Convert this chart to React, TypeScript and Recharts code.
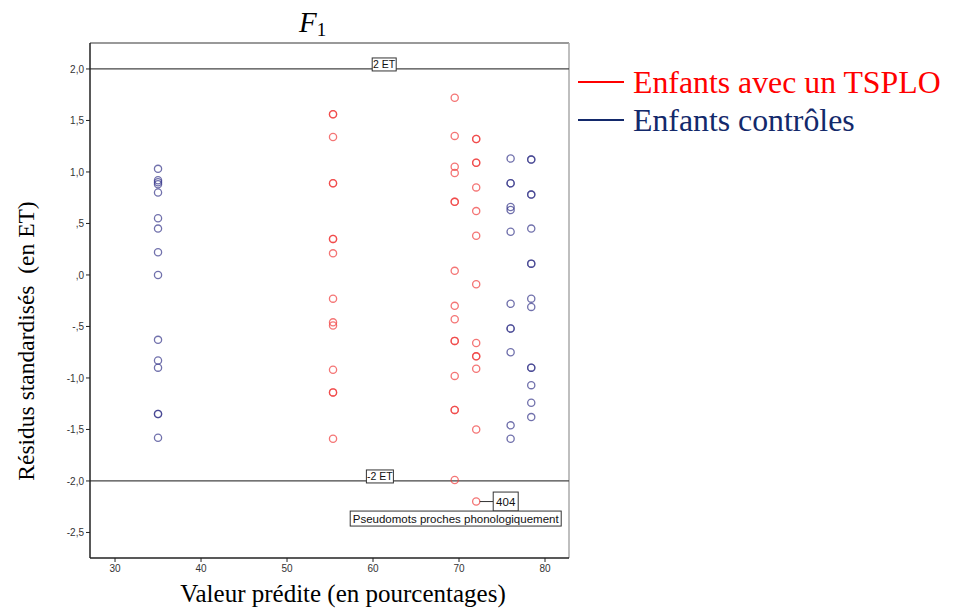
import React from "react";
import {
  ScatterChart,
  Scatter,
  XAxis,
  YAxis,
  ReferenceLine,
  ReferenceDot,
} from "recharts";

// Predicted values (x) per column
const controlLowX = 35.0;
const tspMidX = 55.35;
const tspHighX = 69.5;
const tspTopX = 72.0;
const controlHighX = 76.0;
const controlTopX = 78.4;

// Standardised residuals (y) per column
const controlLowRes = [1.03, 0.92, 0.9, 0.88, 0.8, 0.55, 0.45, 0.22, 0.0, -0.63, -0.83, -0.9, -1.35, -1.35, -1.58];
const tspMidRes = [1.56, 1.56, 1.34, 0.89, 0.89, 0.35, 0.35, 0.21, -0.23, -0.46, -0.49, -0.92, -1.14, -1.14, -1.59];
const tspHighRes = [1.72, 1.35, 1.05, 0.99, 0.71, 0.71, 0.04, -0.3, -0.43, -0.64, -0.64, -0.98, -1.31, -1.31, -1.99];
const tspTopRes = [1.32, 1.32, 1.09, 1.09, 0.85, 0.62, 0.38, -0.09, -0.66, -0.79, -0.79, -0.91, -1.5, -2.2];
const controlHighRes = [1.13, 0.89, 0.89, 0.66, 0.63, 0.42, -0.28, -0.52, -0.52, -0.75, -1.46, -1.59];
const controlTopRes = [1.12, 1.12, 0.78, 0.78, 0.45, 0.11, 0.11, -0.23, -0.31, -0.9, -0.9, -1.07, -1.24, -1.38];

const xTicks = [30, 40, 50, 60, 70, 80];
const yTicks = [2, 1.5, 1, 0.5, 0, -0.5, -1, -1.5, -2, -2.5];
const yTickLabels = ["2,0", "1,5", "1,0", ",5", ",0", "-,5", "-1,0", "-1,5", "-2,0", "-2,5"];

const outlierX = 72.0;
const outlierY = -2.2;
const outlierId = "404";
const outlierNote = "Pseudomots proches phonologiquement";

const legendTsp = "Enfants avec un TSPLO";
const legendCtrl = "Enfants contrôles";

const col = (x: number, ys: number[]) => ys.map((y) => ({ x, y }));
const tspData = [...col(tspMidX, tspMidRes), ...col(tspHighX, tspHighRes), ...col(tspTopX, tspTopRes)];
const ctrlData = [...col(controlLowX, controlLowRes), ...col(controlHighX, controlHighRes), ...col(controlTopX, controlTopRes)];

const X_DOMAIN: [number, number] = [27.09, 82.79];
const Y_DOMAIN: [number, number] = [-2.748, 2.252];

const RED = "#f03a3a";
const BLUE = "#3a3a8c";

const circleShape = (color: string, op: number) => (p: any) => (
  <circle cx={p.cx} cy={p.cy} r={3.6} fill="none" stroke={color} strokeOpacity={op} strokeWidth={1.3} />
);

const boxLabel = (text: string, w: number) => (p: any) => (
  <g>
    <rect x={p.cx - w / 2} y={p.cy - 11} width={w} height={13} fill="#fff" stroke="#333" strokeWidth={1} />
    <text x={p.cx} y={p.cy - 1} textAnchor="middle" fontFamily="Liberation Sans, Arial" fontSize={10.5} fill="#111">
      {text}
    </text>
  </g>
);

const outlierShape = (p: any) => (
  <g>
    <line x1={p.cx + 3.6} y1={p.cy} x2={p.cx + 17} y2={p.cy} stroke="#333" strokeWidth={1} />
    <rect x={p.cx + 17} y={p.cy - 9.5} width={25} height={19} fill="#fff" stroke="#333" strokeWidth={1} />
    <text x={p.cx + 29.5} y={p.cy + 4} textAnchor="middle" fontFamily="Liberation Sans, Arial" fontSize={11.5} fill="#111">
      {outlierId}
    </text>
    <rect x={p.cx - 126} y={p.cy + 9.5} width={211} height={15} fill="#fff" stroke="#333" strokeWidth={1} />
    <text x={p.cx - 20.5} y={p.cy + 21} textAnchor="middle" fontFamily="Liberation Sans, Arial" fontSize={11.5} fill="#111">
      {outlierNote}
    </text>
  </g>
);

export default function App() {
  const tickStyle = { fontFamily: "Liberation Sans, Arial", fontSize: 10, fill: "#333" };
  return (
    <div style={{ position: "absolute", left: 0, top: 0, width: 959, height: 612, background: "#fff" }}>
      <ScatterChart width={959} height={612} margin={{ top: 43, left: 30, right: 390, bottom: 24 }}>
        <XAxis
          type="number"
          dataKey="x"
          domain={X_DOMAIN}
          ticks={xTicks}
          height={30}
          tickSize={4}
          tick={tickStyle}
          tickMargin={3}
          axisLine={{ stroke: "#222", strokeWidth: 1.5 }}
          tickLine={{ stroke: "#222" }}
          allowDataOverflow
        />
        <YAxis
          type="number"
          dataKey="y"
          domain={Y_DOMAIN}
          ticks={yTicks}
          width={60}
          tickSize={4}
          tick={tickStyle}
          tickMargin={2}
          tickFormatter={(v: number) => yTickLabels[yTicks.indexOf(v)] ?? String(v)}
          axisLine={{ stroke: "#222", strokeWidth: 1.5 }}
          tickLine={{ stroke: "#222" }}
          allowDataOverflow
        />
        <ReferenceLine y={Y_DOMAIN[1]} stroke="#999" strokeWidth={2} />
        <ReferenceLine x={X_DOMAIN[1]} stroke="#aaa" strokeWidth={1.5} />
        <ReferenceLine y={2} stroke="#444" strokeWidth={1.2} />
        <ReferenceLine y={-2} stroke="#444" strokeWidth={1.2} />
        <ReferenceDot x={61.3} y={2} shape={boxLabel("2 ET", 24)} />
        <ReferenceDot x={60.8} y={-2} shape={boxLabel("-2 ET", 27)} />
        <Scatter data={tspData} fill={RED} shape={circleShape(RED, 0.7)} isAnimationActive={false} />
        <Scatter data={ctrlData} fill={BLUE} shape={circleShape(BLUE, 0.72)} isAnimationActive={false} />
        <ReferenceDot x={outlierX} y={outlierY} shape={outlierShape} />
      </ScatterChart>
      <svg
        width={959}
        height={612}
        style={{ position: "absolute", left: 0, top: 0, pointerEvents: "none" }}
      >
        <text x={299} y={32} fontFamily="Liberation Serif, Times New Roman" fontSize={29} fontStyle="italic" fill="#000">
          F
          <tspan fontStyle="normal" fontSize={19} dy={4}>1</tspan>
        </text>
        <text
          x={343}
          y={602}
          textAnchor="middle"
          fontFamily="Liberation Serif, Times New Roman"
          fontSize={25}
          fill="#000"
        >
          Valeur prédite (en pourcentages)
        </text>
        <text
          transform="translate(34,341) rotate(-90)"
          textAnchor="middle"
          fontFamily="Liberation Serif, Times New Roman"
          fontSize={23.5}
          fill="#000"
          style={{ whiteSpace: "pre" }}
        >
          {"Résidus standardisés  (en ET)"}
        </text>
        <line x1={578} y1={82} x2={624} y2={82} stroke="#ff0000" strokeWidth={2} />
        <text x={633} y={93} fontFamily="Liberation Serif, Times New Roman" fontSize={31.8} fill="#ff0000">
          {legendTsp}
        </text>
        <line x1={578} y1={120} x2={624} y2={120} stroke="#13296b" strokeWidth={2} />
        <text x={633} y={131} fontFamily="Liberation Serif, Times New Roman" fontSize={31.8} fill="#13296b">
          {legendCtrl}
        </text>
      </svg>
    </div>
  );
}
